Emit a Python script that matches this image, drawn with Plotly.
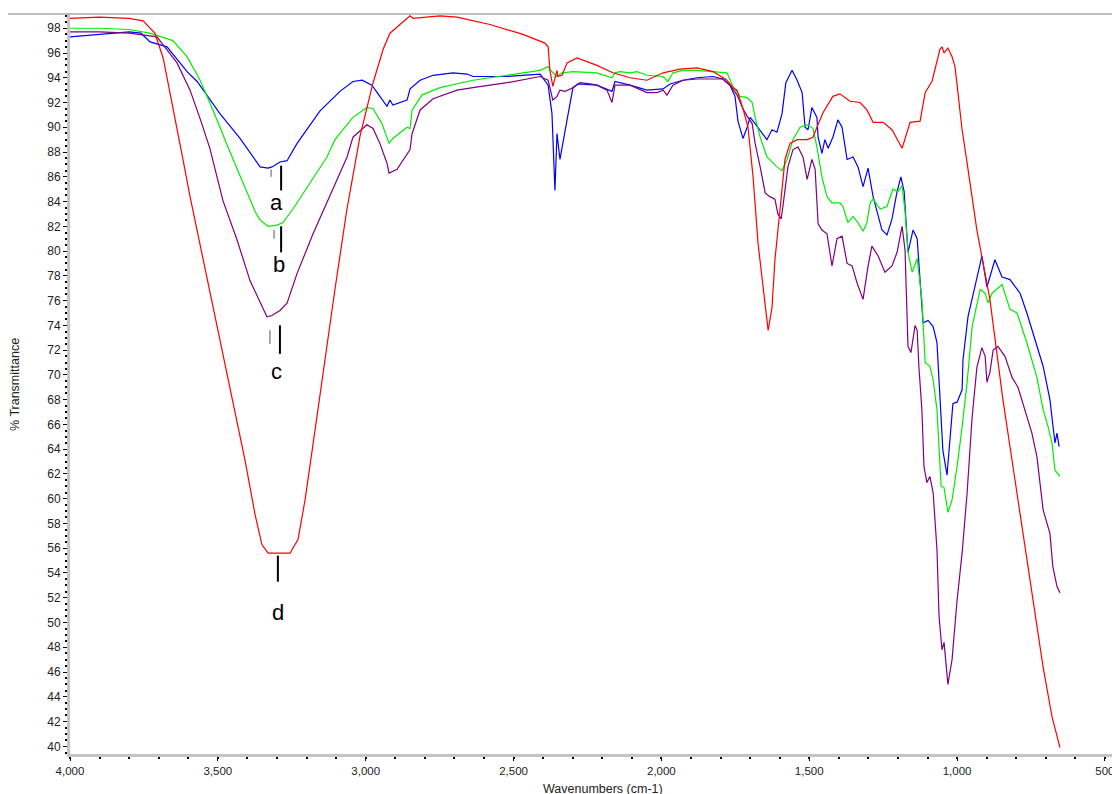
import plotly.graph_objects as go

# ---- data: (wavenumber cm-1, %T) ----
wn_a = [4000, 3950, 3900, 3850, 3800, 3760, 3729, 3672, 3638, 3604, 3570, 3493, 3425, 3357, 3330, 3317,
        3290, 3266, 3232, 3155, 3087, 3043, 3012, 2979, 2958, 2928, 2918, 2908, 2860, 2850, 2816, 2772,
        2705, 2657, 2637, 2522, 2410, 2383, 2370, 2360, 2353, 2343, 2319, 2299, 2282, 2241, 2218, 2167,
        2157, 2106, 2049, 1994, 1971, 1927, 1879, 1825, 1792, 1768, 1751, 1741, 1734, 1724, 1710, 1700,
        1683, 1660, 1643, 1626, 1609, 1592, 1579, 1558, 1541, 1524, 1514, 1504, 1491, 1474, 1470, 1457,
        1447, 1436, 1420, 1403, 1389, 1372, 1352, 1335, 1318, 1301, 1284, 1254, 1237, 1220, 1203, 1190,
        1179, 1166, 1149, 1135, 1119, 1115, 1098, 1081, 1068, 1058, 1048, 1034, 1024, 1014, 1000, 983,
        980, 963, 916, 899, 872, 848, 821, 787, 764, 743, 709, 686, 676, 669, 662, 655]
t_a = [97.3, 97.4, 97.5, 97.6, 97.7, 97.6, 96.9, 96.5, 95.5, 94.5, 93.7, 91.1, 89.1, 86.8, 86.7, 86.8,
       87.2, 87.3, 88.7, 91.3, 92.9, 93.7, 93.8, 93.4, 92.7, 91.7, 92.2, 91.8, 92.2, 93.1, 93.8, 94.2,
       94.4, 94.3, 94.1, 94.1, 94.3, 93.4, 91.1, 84.9, 89.5, 87.4, 90.6, 93.2, 93.5, 93.4, 93.4, 92.9,
       93.7, 93.4, 93.0, 93.1, 93.5, 93.8, 94.0, 94.1, 93.9, 93.4, 92.5, 90.5, 90.0, 89.1, 90.0, 90.8,
       90.3, 89.5, 89.0, 89.8, 89.6, 91.1, 93.6, 94.6, 93.8, 92.8, 90.0, 89.8, 91.6, 90.8, 89.2, 87.9,
       89.0, 88.3, 89.2, 90.6, 90.0, 87.4, 87.6, 86.8, 85.2, 86.7, 84.4, 81.7, 81.3, 82.6, 84.8, 86.0,
       84.8, 79.9, 81.7, 81.0, 76.1, 74.2, 74.4, 73.9, 72.6, 68.0, 63.9, 61.9, 64.5, 67.7, 67.8, 68.8,
       71.2, 74.7, 79.6, 77.1, 79.3, 77.9, 77.7, 76.6, 75.0, 73.4, 70.7, 68.0, 65.8, 64.5, 65.3, 64.2]

wn_b = [4000, 3900, 3800, 3730, 3652, 3604, 3560, 3513, 3466, 3415, 3374, 3357, 3330, 3300, 3280, 3246,
        3188, 3131, 3104, 3087, 3043, 2996, 2975, 2945, 2921, 2908, 2860, 2850, 2843, 2810, 2749, 2637,
        2522, 2410, 2383, 2367, 2353, 2336, 2299, 2241, 2218, 2167, 2157, 2140, 2106, 2082, 2049, 1994,
        1978, 1961, 1927, 1879, 1825, 1778, 1758, 1734, 1710, 1693, 1683, 1666, 1643, 1609, 1592, 1575,
        1555, 1531, 1507, 1487, 1474, 1457, 1440, 1423, 1396, 1386, 1369, 1352, 1335, 1318, 1305, 1294,
        1284, 1260, 1237, 1217, 1200, 1186, 1176, 1166, 1152, 1135, 1119, 1108, 1092, 1081, 1068, 1061,
        1054, 1044, 1031, 1017, 1000, 983, 966, 949, 922, 905, 895, 882, 848, 821, 797, 764, 730, 709,
        692, 679, 669, 652]
t_b = [98.0, 98.0, 97.9, 97.6, 97.0, 95.7, 93.8, 91.2, 88.4, 85.5, 83.2, 82.5, 82.0, 82.1, 82.3, 83.4,
       85.5, 87.6, 89.0, 89.5, 90.8, 91.6, 91.5, 90.3, 88.7, 89.1, 90.0, 89.9, 91.4, 92.6, 93.2, 93.8,
       94.2, 94.6, 94.9, 94.4, 94.1, 94.4, 94.5, 94.4, 94.4, 94.0, 94.4, 94.5, 94.4, 94.5, 94.2, 94.1,
       93.7, 94.4, 94.6, 94.6, 94.5, 94.4, 93.3, 92.5, 92.4, 92.0, 90.8, 89.2, 87.6, 86.8, 86.5, 87.4,
       89.0, 90.0, 90.2, 89.9, 88.4, 86.0, 84.4, 83.9, 83.9, 83.6, 82.3, 82.8, 82.3, 81.6, 82.3, 83.9,
       84.2, 83.4, 83.6, 85.0, 84.8, 85.3, 83.2, 79.9, 78.3, 79.4, 76.1, 71.0, 70.7, 69.6, 67.2, 64.2,
       61.0, 60.9, 58.9, 59.9, 62.6, 65.8, 69.4, 73.9, 76.9, 76.6, 75.8, 76.6, 77.3, 75.3, 75.0, 72.6,
       69.8, 67.2, 65.8, 64.5, 62.3, 61.8]

wn_c = [4000, 3900, 3800, 3706, 3638, 3594, 3560, 3527, 3483, 3435, 3391, 3357, 3334, 3317, 3290, 3266,
        3232, 3178, 3111, 3063, 3043, 2996, 2975, 2952, 2928, 2921, 2894, 2860, 2850, 2843, 2816, 2772,
        2691, 2637, 2522, 2410, 2383, 2367, 2353, 2343, 2326, 2299, 2275, 2241, 2218, 2184, 2167, 2157,
        2106, 2049, 2015, 1994, 1981, 1961, 1927, 1879, 1825, 1792, 1768, 1744, 1724, 1710, 1693, 1683,
        1666, 1649, 1633, 1616, 1606, 1595, 1589, 1572, 1555, 1538, 1521, 1507, 1497, 1491, 1480, 1470,
        1457, 1440, 1423, 1406, 1389, 1372, 1355, 1338, 1318, 1301, 1288, 1267, 1244, 1220, 1203, 1186,
        1176, 1169, 1166, 1156, 1149, 1142, 1135, 1129, 1119, 1112, 1102, 1092, 1081, 1068, 1061, 1051,
        1044, 1031, 1017, 1000, 983, 966, 949, 933, 916, 905, 899, 889, 878, 862, 838, 814, 794, 770,
        747, 730, 709, 686, 676, 662, 652]
t_c = [97.7, 97.7, 97.6, 97.3, 95.2, 93.0, 90.7, 88.3, 84.1, 80.9, 77.6, 75.8, 74.7, 74.8, 75.2, 75.8,
       78.2, 81.4, 85.1, 87.6, 89.2, 90.2, 89.9, 88.7, 87.1, 86.3, 86.6, 87.9, 88.2, 89.5, 91.4, 92.3,
       93.0, 93.2, 93.6, 94.1, 93.8, 92.2, 92.5, 93.0, 92.9, 93.2, 93.6, 93.5, 93.4, 93.0, 92.0, 93.4,
       93.4, 92.8, 92.8, 93.0, 92.6, 93.4, 93.8, 93.9, 93.9, 93.9, 93.4, 92.6, 91.5, 90.9, 90.3, 88.7,
       86.8, 84.7, 84.4, 84.2, 83.0, 82.6, 83.6, 86.8, 88.2, 88.4, 87.6, 85.8, 86.8, 87.4, 86.6, 82.2,
       81.7, 81.4, 78.8, 81.0, 81.2, 79.0, 78.8, 77.4, 76.1, 78.8, 80.4, 79.6, 78.3, 78.8, 79.9, 82.0,
       80.1, 75.0, 72.3, 71.8, 73.1, 74.0, 73.6, 70.6, 67.2, 62.6, 61.3, 61.8, 60.5, 55.9, 50.5, 47.8,
       48.4, 45.0, 47.0, 51.8, 55.6, 60.5, 66.6, 70.6, 72.2, 71.5, 69.4, 70.2, 72.0, 72.3, 71.5, 69.8,
       69.0, 67.2, 65.3, 63.4, 59.1, 57.2, 54.5, 52.9, 52.4]

wn_d = [4000, 3900, 3800, 3753, 3713, 3685, 3662, 3639, 3618, 3594, 3560, 3510, 3459, 3408, 3374, 3351,
        3330, 3256, 3229, 3205, 3171, 3138, 3104, 3064, 3019, 2975, 2941, 2918, 2874, 2850, 2840, 2749,
        2691, 2580, 2468, 2394, 2383, 2377, 2367, 2353, 2350, 2336, 2319, 2285, 2218, 2164, 2106, 2049,
        1994, 1937, 1879, 1825, 1778, 1758, 1744, 1724, 1707, 1690, 1673, 1656, 1639, 1626, 1616, 1599,
        1582, 1565, 1541, 1507, 1487, 1474, 1453, 1420, 1396, 1362, 1328, 1305, 1284, 1250, 1220, 1186,
        1159, 1125, 1108, 1085, 1075, 1058, 1051, 1044, 1031, 1017, 1007, 997, 983, 966, 949, 933, 889,
        845, 811, 777, 743, 709, 679, 652]
t_d = [98.8, 98.9, 98.8, 98.6, 97.6, 95.6, 92.8, 90.1, 87.4, 84.4, 80.5, 74.8, 68.8, 63.1, 58.7, 56.3,
       55.6, 55.6, 56.7, 59.9, 65.6, 71.2, 76.9, 83.3, 89.3, 93.6, 96.3, 97.6, 98.5, 99.0, 98.8, 99.0,
       98.9, 98.3, 97.5, 96.8, 96.5, 94.6, 93.3, 94.6, 94.1, 94.2, 95.2, 95.6, 95.0, 94.4, 94.0, 93.8,
       94.4, 94.7, 94.8, 94.5, 93.8, 93.2, 93.0, 91.5, 90.0, 86.0, 80.6, 77.1, 73.6, 75.4, 79.3, 83.3,
       87.4, 88.7, 89.0, 89.0, 89.2, 90.0, 91.2, 92.5, 92.7, 92.1, 92.0, 91.4, 90.4, 90.4, 89.8, 88.3,
       90.4, 90.5, 92.8, 93.7, 94.6, 96.3, 96.5, 96.0, 96.4, 95.7, 94.9, 92.8, 89.8, 87.1, 84.4, 81.7, 76.1,
       68.0, 62.6, 57.2, 51.8, 46.4, 42.4, 39.9]

series_names = ["a", "b", "c", "d"]
series_colors = ["#0000ff", "#00ee00", "#800080", "#ff0000"]

# peak labels: letter, wavenumber of marker line, line top/bottom %T, text %T
label_text = ["a", "b", "c", "d"]
label_wn = [3286, 3286, 3290, 3297]
label_top = [86.9, 82.0, 74.0, 55.4]
label_bot = [84.9, 79.9, 71.7, 53.3]
label_txt_wn = [3300, 3293, 3300, 3297]
label_txt_t = [83.9, 78.9, 70.3, 50.8]
# small grey marker ticks beside the labels
grey_wn = [3320, 3310, 3324]
grey_top = [86.6, 81.7, 73.6]
grey_bot = [86.0, 81.0, 72.5]

x_ticks = [4000, 3500, 3000, 2500, 2000, 1500, 1000, 500]
x_range = [4000, 449]
y_range = [39.38, 99.15]

FONT = "Arial, Liberation Sans, sans-serif"

fig = go.Figure()
for wn, t, name, col in zip([wn_a, wn_b, wn_c, wn_d], [t_a, t_b, t_c, t_d], series_names, series_colors):
    fig.add_trace(go.Scatter(x=wn, y=t, mode="lines", name=name,
                             line=dict(color=col, width=1.2), hoverinfo="skip"))

shapes = []
for w, y0, y1 in zip(label_wn, label_top, label_bot):
    shapes.append(dict(type="line", xref="x", yref="y", x0=w, x1=w, y0=y0, y1=y1,
                       line=dict(color="black", width=2)))
for w, y0, y1 in zip(grey_wn, grey_top, grey_bot):
    shapes.append(dict(type="line", xref="x", yref="y", x0=w, x1=w, y0=y0, y1=y1,
                       line=dict(color="#909090", width=1.5)))
# thin grey rule along the top
shapes.append(dict(type="line", xref="paper", yref="paper", x0=-0.059, x1=1.0, y0=1.0, y1=1.0,
                   line=dict(color="#a8a8a8", width=1.5)))

annotations = []
for txt, w, t in zip(label_text, label_txt_wn, label_txt_t):
    annotations.append(dict(x=w, y=t, xref="x", yref="y", text=txt, showarrow=False,
                            font=dict(family=FONT, size=22, color="black"),
                            xanchor="center", yanchor="middle"))
annotations.append(dict(x=-0.0524, y=0.5, xref="paper", yref="paper", text="% Transmittance",
                        textangle=-90, showarrow=False, xanchor="center", yanchor="middle",
                        font=dict(family=FONT, size=12.5, color="#222222")))
annotations.append(dict(x=0.5076, y=-0.047, xref="paper", yref="paper", text="Wavenumbers (cm-1)",
                        showarrow=False, xanchor="center", yanchor="middle",
                        font=dict(family=FONT, size=12.5, color="#222222")))

# the page body adds an 8px offset, so the figure is 8px smaller and margins shifted
fig.update_layout(
    width=1112, height=786,
    margin=dict(l=62, r=0, t=6, b=40, pad=0, autoexpand=False),
    paper_bgcolor="white", plot_bgcolor="white",
    showlegend=False, hovermode=False,
    shapes=shapes, annotations=annotations,
    font=dict(family=FONT, color="#222222"),
)
fig.update_xaxes(
    range=x_range, tickvals=x_ticks, tickformat=",d",
    showgrid=False, zeroline=False,
    showline=True, linecolor="#c4c4c4", linewidth=3,
    ticks="outside", ticklen=4, tickcolor="black", tickwidth=1,
    tickfont=dict(family=FONT, size=11.5, color="#222222"),
    minor=dict(dtick=100, ticks="outside", ticklen=2, tickcolor="black", tickwidth=1.5),
)
fig.update_yaxes(
    range=y_range, tick0=40, dtick=2,
    showgrid=False, zeroline=False,
    showline=True, linecolor="#c4c4c4", linewidth=3,
    ticks="outside", ticklen=4, tickcolor="black", tickwidth=1,
    tickfont=dict(family=FONT, size=12, color="#222222"),
    minor=dict(dtick=0.5, ticks="outside", ticklen=2, tickcolor="black", tickwidth=1.5),
)

fig.write_html("out.html")
